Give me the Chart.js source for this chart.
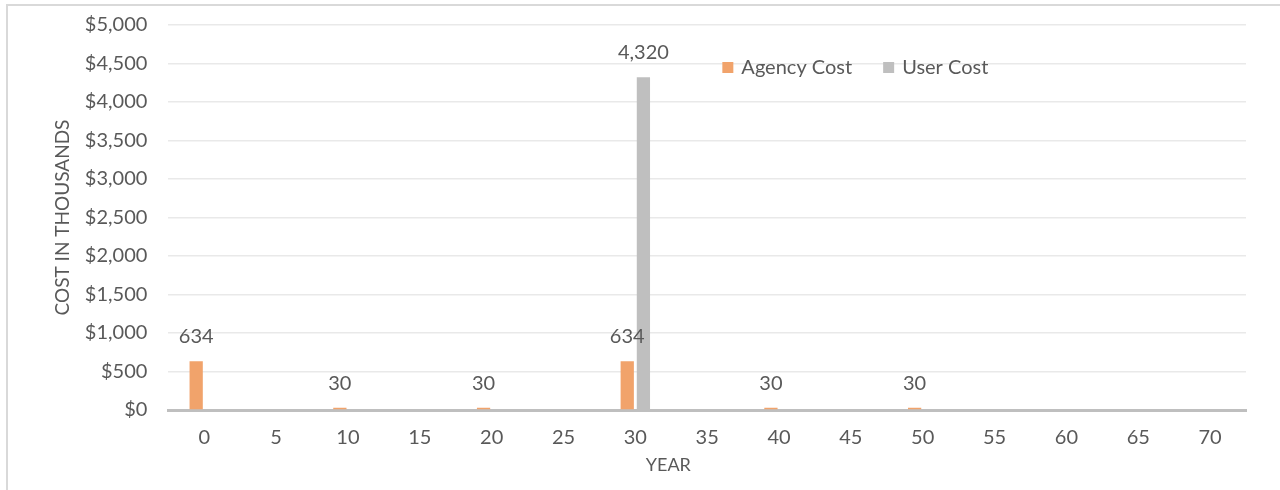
<!DOCTYPE html>
<html>
<head>
<meta charset="utf-8">
<title>Cost by Year</title>
<script src="https://cdn.jsdelivr.net/npm/chart.js@4/dist/chart.umd.min.js"></script>
<style>
  html, body { margin: 0; padding: 0; background: #ffffff; }
  #wrap { position: relative; width: 1280px; height: 490px; overflow: hidden; }
  #c { position: absolute; left: 0; top: 0; }
  #frame {
    position: absolute; left: 6px; top: 4px; right: -10px; bottom: -10px;
    border-left: 2px solid #d9d9d9; border-top: 2px solid #d9d9d9;
    pointer-events: none;
  }
</style>
</head>
<body>
<div id="wrap">
  <canvas id="c" width="1280" height="490"></canvas>
  <div id="frame"></div>
</div>
<script>
// Years on the horizontal axis
const years = ['0', '5', '10', '15', '20', '25', '30', '35', '40', '45', '50', '55', '60', '65', '70'];
// Costs in thousands of dollars
const agencyCost = [634, 0, 30, 0, 30, 0, 634, 0, 30, 0, 30, 0, 0, 0, 0];
const userCost   = [0, 0, 0, 0, 0, 0, 4320, 0, 0, 0, 0, 0, 0, 0, 0];
const seriesNames = ['Agency Cost', 'User Cost'];
const xTitle = 'YEAR';
const yTitle = 'COST IN THOUSANDS';
const yMin = 0, yMax = 5000, yStep = 500;

const FONT = 'Lato';
const TEXT = '#595959';
const AGENCY = '#F1A36B';
const USER = '#BFBFBF';

// Numbers printed above each non-zero bar
const valueLabels = {
  id: 'valueLabels',
  afterDatasetsDraw(chart) {
    const ctx = chart.ctx;
    ctx.save();
    ctx.font = '20px ' + FONT;
    ctx.fillStyle = TEXT;
    ctx.textAlign = 'center';
    ctx.textBaseline = 'middle';
    chart.data.datasets.forEach((ds, i) => {
      const meta = chart.getDatasetMeta(i);
      meta.data.forEach((bar, j) => {
        const v = ds.data[j];
        if (!v) return;
        ctx.fillText(v.toLocaleString('en-US'), bar.x, bar.y - 24.5);
      });
    });
    ctx.restore();
  }
};

// Legend drawn inside the plot area, upper right
const innerLegend = {
  id: 'innerLegend',
  afterDraw(chart) {
    const ctx = chart.ctx;
    const area = chart.chartArea;
    let x = area.left + 554;
    const y = area.top + 43;
    ctx.save();
    ctx.font = '20px ' + FONT;
    ctx.textAlign = 'left';
    ctx.textBaseline = 'middle';
    chart.data.datasets.forEach(ds => {
      ctx.fillStyle = ds.backgroundColor;
      ctx.fillRect(x, y - 6, 11, 11);
      ctx.fillStyle = TEXT;
      ctx.fillText(ds.label, x + 19, y);
      x += 19 + ctx.measureText(ds.label).width + 31;
    });
    ctx.restore();
  }
};

// Horizontal axis title, set a little left of the plot centre
const xAxisTitle = {
  id: 'xAxisTitle',
  afterDraw(chart) {
    const ctx = chart.ctx;
    const area = chart.chartArea;
    ctx.save();
    ctx.font = '18px ' + FONT;
    ctx.fillStyle = TEXT;
    ctx.textAlign = 'center';
    ctx.textBaseline = 'middle';
    ctx.fillText(xTitle, area.left + 500, area.bottom + 55);
    ctx.restore();
  }
};

function build() {
  new Chart(document.getElementById('c'), {
    type: 'bar',
    data: {
      labels: years,
      datasets: [
        { label: seriesNames[0], data: agencyCost, backgroundColor: AGENCY,
          barPercentage: 0.82, categoryPercentage: 0.45 },
        { label: seriesNames[1], data: userCost, backgroundColor: USER,
          barPercentage: 0.82, categoryPercentage: 0.45 }
      ]
    },
    options: {
      responsive: false,
      animation: false,
      layout: { padding: { left: 47, right: 34, top: 0, bottom: 24 } },
      plugins: {
        legend: { display: false },
        tooltip: { enabled: false }
      },
      scales: {
        x: {
          grid: { display: false, drawTicks: false },
          border: { display: true, color: '#BFBFBF', width: 3 },
          ticks: { color: TEXT, font: { family: FONT, size: 20 }, padding: 16, maxRotation: 0, autoSkip: false },
          title: { display: false }
        },
        y: {
          min: yMin, max: yMax,
          grid: { color: '#E9E9E9', lineWidth: 1.5, drawTicks: false },
          border: { display: false },
          ticks: {
            stepSize: yStep, color: TEXT, padding: 21,
            font: { family: FONT, size: 20, lineHeight: 0.4 },
            callback: v => '$' + Number(v).toLocaleString('en-US')
          },
          title: { display: true, text: yTitle, color: TEXT, font: { family: FONT, size: 19 }, padding: { top: 4, bottom: -10 } }
        }
      }
    },
    plugins: [valueLabels, innerLegend, xAxisTitle]
  });
}

if (document.fonts && document.fonts.load) {
  Promise.all([document.fonts.load('20px Lato'), document.fonts.load('18px Lato')]).then(build, build);
} else {
  build();
}
</script>
</body>
</html>
